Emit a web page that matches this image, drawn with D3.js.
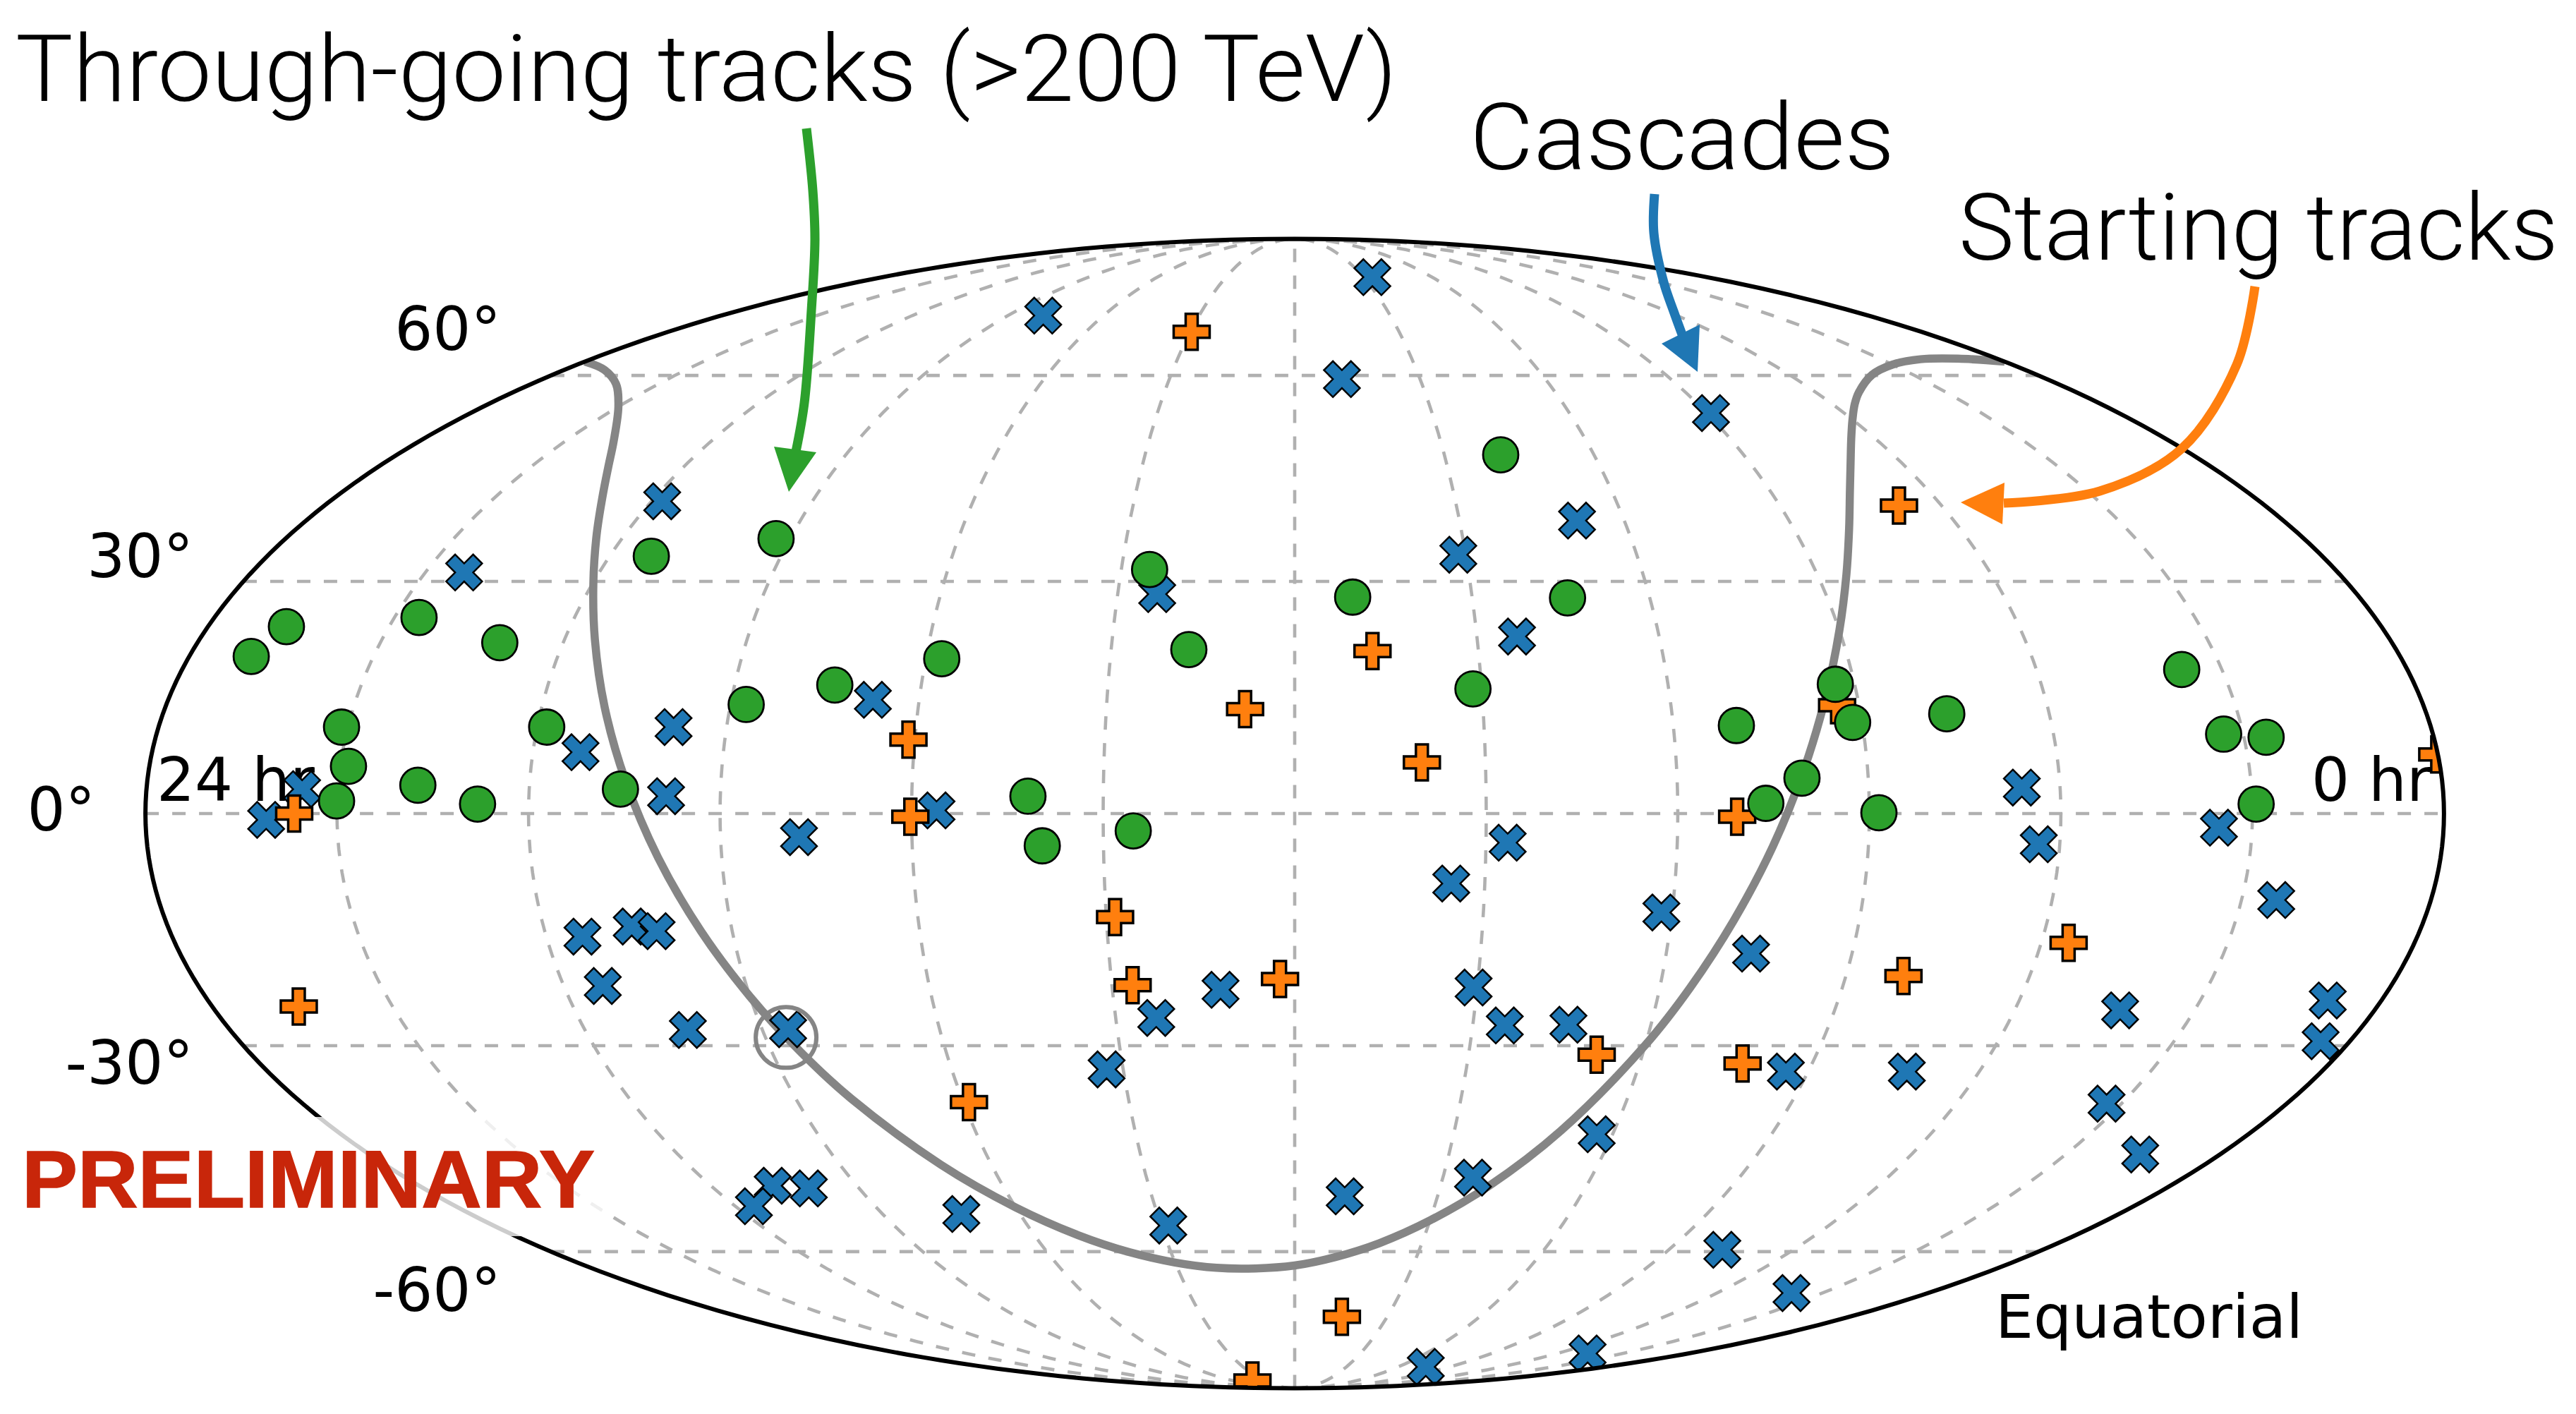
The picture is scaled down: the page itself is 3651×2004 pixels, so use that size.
<!DOCTYPE html>
<html>
<head>
<meta charset="utf-8">
<script src="https://cdn.jsdelivr.net/npm/d3@7"></script>
<style>
	html, body { margin: 0; background: #fff; }
	svg { display: block; }
</style>
</head>
<body>
<div id="skymap"></div>
<script>
// All events as [right ascension deg, declination deg]
const cascades = [[258.9,70.5],[146.1,78.4],[168.7,59.4],[89.1,54.0],[128.6,38.3],[151.3,33.6],[203.3,28.3],[143.4,22.7],[247.4,14.5],[298.0,41.0],[323.3,31.2],[278.4,11.0],
	[292.5,7.8],[278.5,2.2],[335.6,3.1],[341.1,-0.8],[236.1,0.4],[257.7,-3.0],[146.6,-3.7],[66.0,3.3],[63.3,-3.9],[35.2,-1.8],[24.5,-11.0],[155.3,-8.9],[121.7,-12.6],
	[106.3,-17.9],[294.2,-15.7],[285.9,-14.4],[282.1,-15.0],[293.6,-22.1],[282.6,-27.9],[265.6,-27.8],[192.2,-22.6],[203.2,-26.3],[212.9,-33.2],[150.6,-22.3],
	[144.6,-27.3],[133.9,-27.2],[123.0,-42.2],[93.9,-33.5],[72.7,-33.5],[42.4,-25.3],[8.9,-24.0],[5.0,-29.4],[32.7,-37.9],[15.5,-45.1],[169.5,-51.3],[143.9,-48.5],
	[208.4,-55.8],[252.8,-54.0],[287.3,-49.7],[280.4,-50.1],[296.0,-52.8],[77.1,-59.7],[38.8,-67.1],[104.0,-82.5],[46.1,-79.2]];

const startingTracks = [[209.6,67.5],[67.9,40.4],[167.3,20.8],[187.9,13.3],[241.0,9.4],[160.0,6.5],[93.5,13.8],[0.1,7.5],[240.2,-0.4],[336.7,0.0],[110.7,-0.4],[208.6,-13.2],
	[206.6,-22.0],[182.4,-21.2],[80.6,-20.8],[55.6,-16.5],[345.6,-24.8],[127.9,-31.2],[102.1,-32.4],[239.0,-37.7],[164.7,-71.5],[220.5,-86.5]];

const throughGoing = [[138.7,47.7],[272.5,35.8],[292.7,33.4],[205.1,31.6],[170.2,27.9],[133.9,27.8],[325.9,25.2],[347.0,24.0],[349.9,20.1],[310.4,21.9],[237.4,19.8],[197.3,21.0],
	[151.4,15.9],[253.9,16.4],[267.5,13.9],[36.5,18.4],[93.1,16.5],[91.5,11.6],[76.3,12.7],[110.0,11.2],[33.1,10.1],[26.5,9.7],[298.5,11.0],[331.0,11.0],[328.7,6.0],
	[317.5,3.6],[330.1,1.6],[308.0,1.2],[285.7,3.1],[221.8,2.2],[219.6,-4.1],[205.3,-2.2],[100.4,4.5],[106.2,1.3],[88.5,0.1],[29.4,1.2]];

const galacticPlane = [[360,62.3],[350,60.9],[340,58.6],[330,55.0],[320,49.7],[315,46.1],[310,41.7],[305,36.3],[300,29.9],[295,22.3],[290,13.6],[285,4.2],[280,-5.6],[275,-15.0],
	[270,-23.5],[265,-30.9],[260,-37.2],[250,-46.6],[240,-53.0],[230,-57.3],[220,-60.1],[210,-61.8],[200,-62.7],[190,-62.8],[180,-62.3],[170,-60.9],[160,-58.6],[150,-55.0],
	[140,-49.7],[130,-41.7],[120,-29.9],[115,-22.3],[110,-13.6],[105,-4.2],[100,5.6],[95,15.0],[90,23.5],[85,30.9],[80,37.2],[75,42.4],[70,46.6],[65,50.1],[60,53.0],[55,55.4],
	[50,57.3],[40,60.1],[30,61.8],[20,62.7],[10,62.8],[0,62.3]];

const circledEvent = [266.5,-28.9];

const decTicks = [60, 30, 0, -30, -60];
const meridianTicks = [-150, -120, -90, -60, -30, 0, 30, 60, 90, 120, 150];

const width = 3651;
const height = 2004;

const colorCascade = "#1f77b4";
const colorStarting = "#ff7f0e";
const colorThrough = "#2ca02c";
const colorPlane = "#858585";
const colorGrid = "#b0b0b0";

// d3 core has no Mollweide, so give it the raw projection
function mollweideRaw(lambda, phi){
	let theta = phi;
	if(Math.abs(phi) < Math.PI / 2 - 1e-6){
		for(let i = 0; i < 30; i++){
			theta -= (2 * theta + Math.sin(2 * theta) - Math.PI * Math.sin(phi)) / (2 + 2 * Math.cos(2 * theta));
		}
	}
	return [2 * Math.SQRT2 / Math.PI * lambda * Math.cos(theta), Math.SQRT2 * Math.sin(theta)];
}

const projection = d3.geoProjection(mollweideRaw)
	.scale(575.9)
	.translate([1835, 1153])
	.precision(0.1);

const path = d3.geoPath().projection(projection);

// RA runs backwards: 0 hr on the right, 24 hr on the left
const toSky = d => projection([180 - d[0], d[1]]);

const svg = d3
	.select("#skymap")
	.append("svg")
	.attr("width", width)
	.attr("height", height);

svg.append("clipPath")
	.attr("id", "sky")
	.append("path")
	.attr("d", path({type: "Sphere"}));

// Grid
const gridLines = [
	...decTicks.map(lat => d3.range(-180, 181, 3).map(lon => [lon, lat])),
	...meridianTicks.map(lon => d3.range(-90, 91, 3).map(lat => [lon, lat]))
];

svg.append("g")
	.selectAll("path")
	.data(gridLines)
	.enter()
	.append("path")
	.attr("d", d => path({type: "LineString", coordinates: d}))
	.attr("fill", "none")
	.attr("stroke", colorGrid)
	.attr("stroke-width", 4.6)
	.attr("stroke-dasharray", "19 19");

// Tick labels, placed from the rim of the map
const tickFont = "'DejaVu Sans'";

svg.append("g")
	.selectAll("text")
	.data(decTicks)
	.enter()
	.append("text")
	.attr("x", d => projection([-180, d])[0] - 71)
	.attr("y", d => projection([-180, d])[1] + 24 - d)
	.attr("text-anchor", "end")
	.attr("font-family", tickFont)
	.attr("font-size", 85)
	.text(d => d + "°");

function plainText(txt, x, y, size, family, weight, fill, len){
	const t = svg.append("text")
		.attr("x", x)
		.attr("y", y)
		.attr("font-family", family)
		.attr("font-size", size)
		.attr("font-weight", weight)
		.attr("fill", fill)
		.text(txt);
	if(len != undefined){
		t.attr("textLength", len).attr("lengthAdjust", "spacingAndGlyphs");
	}
	return t;
}

plainText("24 hr", 222, 1135, 85, tickFont, 400, "#000");
plainText("0 hr", 3276, 1135, 85, tickFont, 400, "#000");
plainText("Equatorial", 2828, 1896, 85, tickFont, 400, "#000", 436);

// Marker shapes, same outlines as matplotlib's X, P
const xShape = [[-1,-2],[0,-1],[1,-2],[2,-1],[1,0],[2,1],[1,2],[0,1],[-1,2],[-2,1],[-1,0],[-2,-1]];
const plusShape = [[-1,-3],[1,-3],[1,-1],[3,-1],[3,1],[1,1],[1,3],[-1,3],[-1,1],[-3,1],[-3,-1],[-1,-1]];

function shapeSymbol(shape, unit){
	return {
		draw(context, size){
			shape.forEach((p, i) => {
				const x = p[0] * size / unit;
				const y = p[1] * size / unit;
				if(i == 0) context.moveTo(x, y);
				else context.lineTo(x, y);
			});
			context.closePath();
		}
	};
}

const clipped = svg.append("g").attr("clip-path", "url(#sky)");

clipped.append("path")
	.attr("d", d3.line().x(d => toSky(d)[0]).y(d => toSky(d)[1]).curve(d3.curveCatmullRom)(galacticPlane))
	.attr("fill", "none")
	.attr("stroke", colorPlane)
	.attr("stroke-width", 11.5);

function drawMarkers(data, symbolType, size, fill, edge){
	clipped.append("g")
		.selectAll("path")
		.data(data)
		.enter()
		.append("path")
		.attr("transform", d => `translate(${toSky(d)})`)
		.attr("d", d3.symbol().type(symbolType).size(size))
		.attr("fill", fill)
		.attr("stroke", "#000")
		.attr("stroke-width", edge)
		.attr("stroke-linejoin", "miter");
}

drawMarkers(cascades, shapeSymbol(xShape, 4), 51, colorCascade, 2.5);
drawMarkers(startingTracks, shapeSymbol(plusShape, 6), 51, colorStarting, 3.5);

clipped.append("g")
	.selectAll("circle")
	.data(throughGoing)
	.enter()
	.append("circle")
	.attr("cx", d => toSky(d)[0])
	.attr("cy", d => toSky(d)[1])
	.attr("r", 25)
	.attr("fill", colorThrough)
	.attr("stroke", "#000")
	.attr("stroke-width", 2.8);

svg.append("circle")
	.attr("cx", toSky(circledEvent)[0])
	.attr("cy", toSky(circledEvent)[1])
	.attr("r", 43)
	.attr("fill", "none")
	.attr("stroke", colorPlane)
	.attr("stroke-width", 6);

// Outer ellipse
svg.append("path")
	.attr("d", path({type: "Sphere"}))
	.attr("fill", "none")
	.attr("stroke", "#000")
	.attr("stroke-width", 6);

// White box behind PRELIMINARY fades what is under it
svg.append("rect")
	.attr("x", 20)
	.attr("y", 1583)
	.attr("width", 840)
	.attr("height", 169)
	.attr("fill", "#fff")
	.attr("fill-opacity", 0.8);

plainText("PRELIMINARY", 31, 1711, 115, "'Liberation Sans'", 700, "#c8260a", 812)
	.attr("stroke", "#c8260a")
	.attr("stroke-width", 1.5);

// Annotations
const titleFont = "Roboto";
plainText("Through-going tracks (>200 TeV)", 22, 143, 132, titleFont, 300, "#000", 1958);
plainText("Cascades", 2083, 240, 132, titleFont, 300, "#000", 602);
plainText("Starting tracks", 2776, 368, 132, titleFont, 300, "#000", 850);

const arrowLine = d3.line().curve(d3.curveCatmullRom);

function arrow(points, head, color){
	svg.append("path")
		.attr("d", arrowLine(points))
		.attr("fill", "none")
		.attr("stroke", color)
		.attr("stroke-width", 13);
	svg.append("path")
		.attr("d", d3.line()(head) + "Z")
		.attr("fill", color);
}

arrow([[1143,182],[1152,270],[1155,340],[1150,440],[1140,571],[1128,640]],
	[[1097,633],[1157,641],[1118,697]], colorThrough);
arrow([[2345,275],[2344,330],[2358,400],[2372,441],[2387,482]],
	[[2409,460],[2355,487],[2406,527]], colorCascade);
arrow([[3196,406],[3170,517],[3092,636],[2976,696],[2840,713]],
	[[2841,684],[2838,743],[2779,712]], colorStarting);
</script>
</body>
</html>
